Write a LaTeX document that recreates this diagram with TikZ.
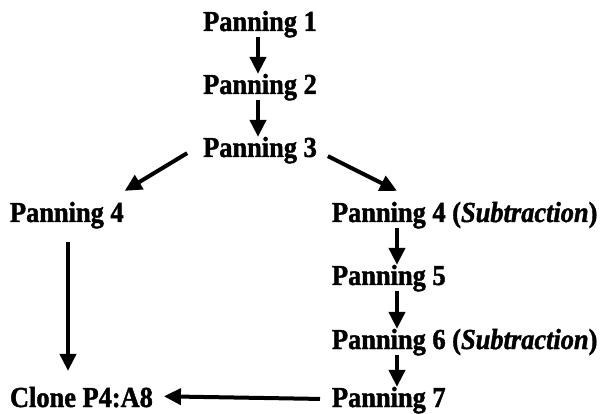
\documentclass[tikz,border=0pt]{standalone}
\usepackage{fontspec}
\setmainfont{Liberation Serif}[BoldFeatures={FakeBold=1.5,FakeStretch=0.91},BoldItalicFeatures={FakeBold=1.5,FakeStretch=0.91}]
\usetikzlibrary{arrows.meta,calc}
\begin{document}
\begin{tikzpicture}[x=1pt,y=1pt,
  lbl/.style={inner sep=0pt,outer sep=0pt,font=\fontsize{29}{32}\selectfont\bfseries},
  arr/.style={line width=4pt,-{Triangle[length=17pt,width=16pt]}}]
\useasboundingbox (0,0) rectangle (603,-414);
\coordinate (rc) at (397,0);
\coordinate (lc) at (68,0);
\node[lbl,anchor=base] (p1) at (260,-31) {Panning 1};
\node[lbl,anchor=base] (p2) at (260,-94) {Panning 2};
\node[lbl,anchor=base] (p3) at (260,-157) {Panning 3};
\node[lbl,anchor=base west] (p4l) at (10,-222) {Panning 4};
\node[lbl,anchor=base west] (p4s) at (332,-222) {Panning 4 (\textit{Subtraction})};
\node[lbl,anchor=base west] (p5) at (332,-285) {Panning 5};
\node[lbl,anchor=base west] (p6) at (332,-349) {Panning 6 (\textit{Subtraction})};
\node[lbl,anchor=base west] (p7) at (332,-407) {Panning 7};
\node[lbl,anchor=base west] (cl) at (10,-407) {Clone P4:A8};
\draw[arr] (p1.south -| 258,0) -- (p2.north -| 258,0);
\draw[arr] (p2.south -| 258,0) -- (p3.north -| 258,0);
\draw[arr] ($(p3.west)+(-16,-3)$) -- ($(p4l.north east)+(1,11)$);
\draw[arr] ($(p3.east)+(11,-6)$) -- ($(p4s.north -| rc)+(0,11)$);
\draw[arr,shorten <=14pt,shorten >=16pt] (p4l.south -| lc) -- (cl.north -| lc);
\draw[arr] (p4s.south -| rc) -- (p5.north -| rc);
\draw[arr] (p5.south -| rc) -- (p6.north -| rc);
\draw[arr] (p6.south -| rc) -- (p7.north -| rc);
\draw[arr,shorten <=12pt,shorten >=11pt] ($(p7.west)+(0,1)$) -- ($(cl.east)+(0,1)$);
\end{tikzpicture}
\end{document}
